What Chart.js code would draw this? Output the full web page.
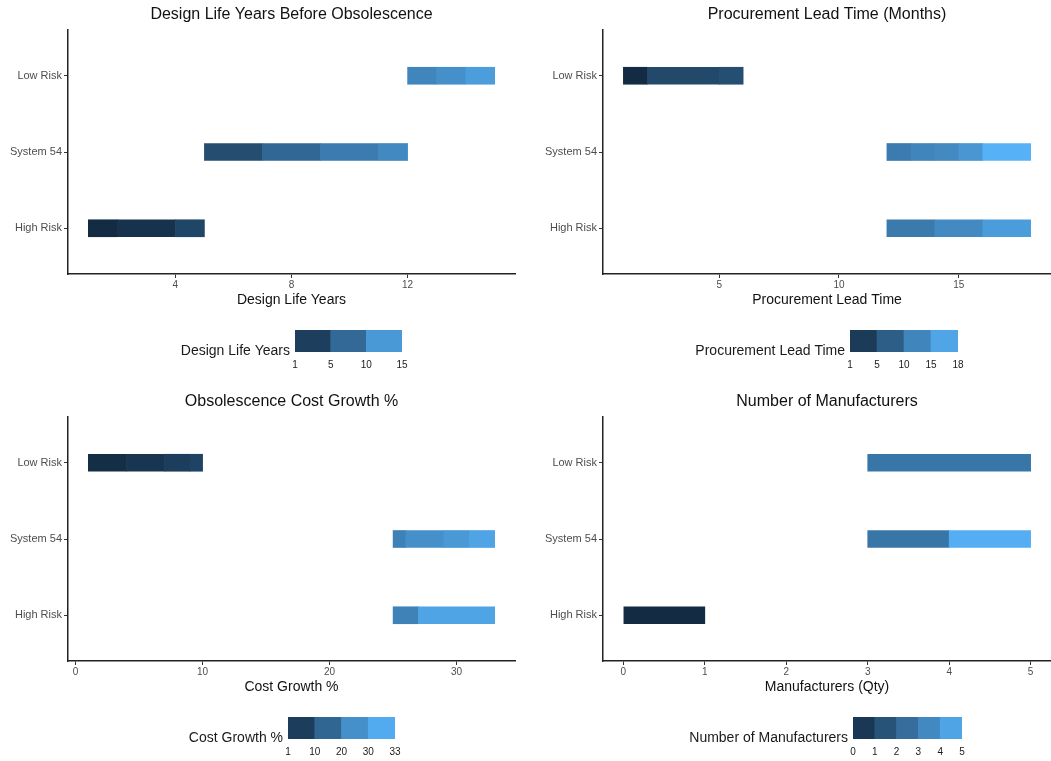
<!DOCTYPE html>
<html>
<head>
<meta charset="utf-8">
<title>Obsolescence Risk Comparison</title>
<script src="https://cdn.jsdelivr.net/npm/chart.js@4.4.1/dist/chart.umd.min.js"></script>
<style>
  body { margin: 0; background: #fff; }
  #page { position: relative; width: 1051px; height: 761px; overflow: hidden; background: #fff; }
  #page canvas { position: absolute; }
</style>
</head>
<body>
<div id="page">
  <canvas id="designChart" width="525" height="310" style="left:0;top:0"></canvas>
  <canvas id="leadChart" width="516" height="310" style="left:535px;top:0"></canvas>
  <canvas id="costChart" width="525" height="310" style="left:0;top:387px"></canvas>
  <canvas id="manuChart" width="516" height="310" style="left:535px;top:387px"></canvas>

  <canvas id="designLegend" width="321" height="56" style="left:95px;top:316px"></canvas>
  <canvas id="leadLegend" width="322" height="56" style="left:650px;top:316px"></canvas>
  <canvas id="costLegend" width="321" height="56" style="left:88px;top:703px"></canvas>
  <canvas id="manuLegend" width="323" height="56" style="left:653px;top:703px"></canvas>
</div>

<script>
// --- DATA ---
// rows bottom -> top
const riskLevels = ['High Risk', 'System 54', 'Low Risk'];

// Design life years: segment edges per row, and the fill value of each segment
const designBounds = [[1, 2, 4, 5], [5, 7, 9, 11, 12], [12, 13, 14, 15]];
const designFill = [[1, 1.7, 3.8], [4.5, 7.3, 9.4, 10.8], [10.4, 11.5, 12.9]];
const designTicks = [4, 8, 12];
const designBreaks = [1, 5, 10, 15];

// Procurement lead time (months)
const leadBounds = [[12, 14, 16, 18], [12, 13, 14, 15, 16, 18], [1, 2, 5, 6]];
const leadFill = [[11, 13.1, 15.3], [11.2, 12.4, 13.1, 14.6, 18], [1, 4.7, 5.4]];
const leadTicks = [5, 10, 15];
const leadBreaks = [1, 5, 10, 15, 18];

// Obsolescence cost growth %
const costBounds = [[25, 27, 33], [25, 26, 29, 31, 33], [1, 4, 7, 9, 10]];
const costFill = [[21.8, 29.8], [21.5, 25, 27.2, 29.8], [1.6, 3.6, 5.2, 6.8]];
const costTicks = [0, 10, 20, 30];
const costBreaks = [1, 10, 20, 30, 33];

// Number of manufacturers
const manuBounds = [[0, 1], [3, 4, 5], [3, 5]];
const manuFill = [[0], [2.8, 4.9], [2.8]];
const manuTicks = [0, 1, 2, 3, 4, 5];
const manuBreaks = [0, 1, 2, 3, 4, 5];

// --- STYLE HELPERS ---
const FONT = '"Liberation Sans", Arial, Helvetica, sans-serif';
const lowColor = [19, 43, 67];    // #132B43
const highColor = [86, 177, 247]; // #56B1F7

function fillColor(value, breaks) {
    const lo = breaks[0], hi = breaks[breaks.length - 1];
    const t = Math.min(1, Math.max(0, (value - lo) / (hi - lo)));
    const c = lowColor.map((l, i) => Math.round(l + (highColor[i] - l) * t));
    return `rgb(${c.join(',')})`;
}

// title centred over the plot panel, like ggplot
const panelTitle = {
    id: 'panelTitle',
    afterDraw(chart, args, opts) {
        const { ctx, chartArea } = chart;
        ctx.save();
        ctx.font = `16px ${FONT}`;
        ctx.fillStyle = '#111';
        ctx.textAlign = 'center';
        ctx.textBaseline = 'middle';
        ctx.fillText(opts.text, (chartArea.left + chartArea.right) / 2, chartArea.top - 15);
        ctx.restore();
    }
};

// --- PANEL CHART ---
function buildPanel(id, title, xTitle, bounds, fills, ticks, breaks, padRight) {
    const data = [];
    const colors = [];
    bounds.forEach((edges, row) => {
        for (let i = 0; i < edges.length - 1; i++) {
            data.push({ y: row + 1, x: [edges[i], edges[i + 1]] });
            colors.push(fillColor(fills[row][i], breaks));
        }
    });

    const lo = breaks[0], hi = breaks[breaks.length - 1];
    const pad = (hi - lo) * 0.05;

    new Chart(document.getElementById(id), {
        type: 'bar',
        data: {
            datasets: [{
                data: data,
                backgroundColor: colors,
                borderWidth: 0,
                barThickness: 17,
                grouped: false
            }]
        },
        options: {
            indexAxis: 'y',
            responsive: false,
            animation: false,
            layout: { padding: { top: 30, right: padRight, left: 0, bottom: 0 } },
            plugins: {
                legend: { display: false },
                tooltip: { enabled: false },
                panelTitle: { text: title }
            },
            scales: {
                x: {
                    type: 'linear',
                    min: lo - pad, max: hi + pad,
                    afterBuildTicks: s => { s.ticks = ticks.map(v => ({ value: v })); },
                    afterFit: s => { s.height = 36; },
                    grid: { drawOnChartArea: false, tickLength: 4, color: '#333', lineWidth: 1 },
                    border: { display: true, color: '#222', width: 1.5 },
                    ticks: { padding: 1, color: '#4d4d4d', font: { family: FONT, size: 10 } },
                    title: {
                        display: true, text: xTitle, color: '#111',
                        font: { family: FONT, size: 14 }, padding: { top: 0, bottom: 1 }
                    }
                },
                y: {
                    type: 'linear',
                    min: 0.4, max: 3.6,
                    offset: false,
                    afterBuildTicks: s => { s.ticks = riskLevels.map((_, i) => ({ value: i + 1 })); },
                    afterFit: s => { s.width = 68; },
                    grid: { drawOnChartArea: false, offset: false, tickLength: 4, color: '#333', lineWidth: 1 },
                    border: { display: true, color: '#222', width: 1.5 },
                    ticks: {
                        padding: 2, color: '#4d4d4d', font: { family: FONT, size: 11 },
                        callback: v => riskLevels[v - 1]
                    }
                }
            }
        },
        plugins: [panelTitle]
    });
}

// --- STEPPED COLOUR LEGEND ---
function buildLegend(id, title, breaks) {
    const n = breaks.length - 1;
    const data = [];
    const colors = [];
    for (let i = 0; i < n; i++) {
        data.push({ y: title, x: [i, i + 1] });
        colors.push(fillColor((breaks[i] + breaks[i + 1]) / 2, breaks));
    }

    new Chart(document.getElementById(id), {
        type: 'bar',
        data: {
            labels: [title],
            datasets: [{
                data: data,
                backgroundColor: colors,
                borderWidth: 0,
                barThickness: 22,
                grouped: false
            }]
        },
        options: {
            indexAxis: 'y',
            responsive: false,
            animation: false,
            layout: { padding: { top: 14, right: 14, left: 0, bottom: 0 } },
            plugins: { legend: { display: false }, tooltip: { enabled: false } },
            scales: {
                x: {
                    type: 'linear', min: 0, max: n,
                    afterBuildTicks: s => { s.ticks = breaks.map((_, i) => ({ value: i })); },
                    afterFit: s => { s.height = 20; },
                    grid: { display: false, drawTicks: false },
                    border: { display: false },
                    ticks: {
                        padding: 7, color: '#1a1a1a', font: { family: FONT, size: 10 },
                        callback: (v, i) => breaks[i]
                    }
                },
                y: {
                    afterFit: s => { s.width = 200; },
                    grid: { display: false, drawTicks: false },
                    border: { display: false },
                    ticks: { padding: 5, labelOffset: 10, color: '#1a1a1a', font: { family: FONT, size: 14 } }
                }
            }
        }
    });
}

buildPanel('designChart', 'Design Life Years Before Obsolescence', 'Design Life Years',
    designBounds, designFill, designTicks, designBreaks, 10);
buildPanel('leadChart', 'Procurement Lead Time (Months)', 'Procurement Lead Time',
    leadBounds, leadFill, leadTicks, leadBreaks, 0);
buildPanel('costChart', 'Obsolescence Cost Growth %', 'Cost Growth %',
    costBounds, costFill, costTicks, costBreaks, 10);
buildPanel('manuChart', 'Number of Manufacturers', 'Manufacturers (Qty)',
    manuBounds, manuFill, manuTicks, manuBreaks, 0);

buildLegend('designLegend', 'Design Life Years', designBreaks);
buildLegend('leadLegend', 'Procurement Lead Time', leadBreaks);
buildLegend('costLegend', 'Cost Growth %', costBreaks);
buildLegend('manuLegend', 'Number of Manufacturers', manuBreaks);
</script>
</body>
</html>
